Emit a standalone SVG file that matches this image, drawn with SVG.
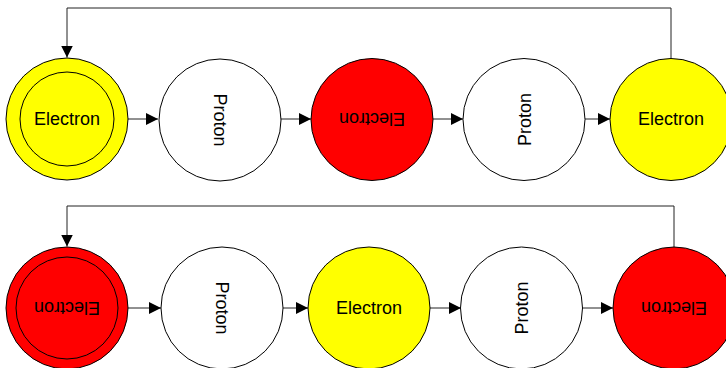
<svg xmlns="http://www.w3.org/2000/svg" width="726" height="368" viewBox="0 0 726 368">
<style>
.c{stroke:#000;stroke-width:1}
.y{fill:#ffff00}
.r{fill:#ff0000}
.w{fill:#ffffff}
.i{fill:none;stroke:#000;stroke-width:1}
.t{font-family:"Liberation Sans",Arial,sans-serif;font-size:18px;fill:#000;text-anchor:middle}
.l{fill:none;stroke:#222;stroke-width:1}
</style>
<defs>
<marker id="a" viewBox="0 0 12 12" refX="12" refY="6" markerWidth="12" markerHeight="12" markerUnits="userSpaceOnUse" orient="auto">
<path d="M0,0 L12,6 L0,12 Z" fill="#000"/>
</marker>
</defs>
<rect width="726" height="368" fill="#fff"/>
<g id="connectors">
<path class="l" d="M671,58 V8 H67 V57.5" marker-end="url(#a)"/>
<path class="l" d="M128,119 H158" marker-end="url(#a)"/>
<path class="l" d="M281,119 H311" marker-end="url(#a)"/>
<path class="l" d="M433,119 H463" marker-end="url(#a)"/>
<path class="l" d="M585,119 H610" marker-end="url(#a)"/>
<path class="l" d="M674,247 V206 H67 V246.5" marker-end="url(#a)"/>
<path class="l" d="M128,308 H161" marker-end="url(#a)"/>
<path class="l" d="M283,308 H308" marker-end="url(#a)"/>
<path class="l" d="M430,308 H461" marker-end="url(#a)"/>
<path class="l" d="M582,308 H613" marker-end="url(#a)"/>
</g>
<g id="n1">
<circle class="c y" cx="67" cy="119" r="61"/>
<circle class="i" cx="67" cy="119" r="47"/>
<text class="t" x="67" y="124.5">Electron</text>
</g>
<g id="n2">
<circle class="c w" cx="220" cy="120" r="61"/>
<text class="t" x="220" y="126.5" transform="rotate(90 220 120)">Proton</text>
</g>
<g id="n3">
<circle class="c r" cx="372" cy="119.5" r="61"/>
<text class="t" x="372" y="126" transform="rotate(180 372 119.5)">Electron</text>
</g>
<g id="n4">
<circle class="c w" cx="524" cy="119.5" r="61"/>
<text class="t" x="524" y="126" transform="rotate(-90 524 119.5)">Proton</text>
</g>
<g id="n5">
<circle class="c y" cx="671" cy="119.5" r="61"/>
<text class="t" x="671" y="125">Electron</text>
</g>
<g id="n6">
<circle class="c r" cx="67" cy="308" r="61"/>
<circle class="i" cx="67" cy="308" r="51"/>
<text class="t" x="67" y="314.5" transform="rotate(180 67 308)">Electron</text>
</g>
<g id="n7">
<circle class="c w" cx="222" cy="308" r="61"/>
<text class="t" x="222" y="314.5" transform="rotate(90 222 308)">Proton</text>
</g>
<g id="n8">
<circle class="c y" cx="369" cy="308" r="61"/>
<text class="t" x="369" y="313.5">Electron</text>
</g>
<g id="n9">
<circle class="c w" cx="521.5" cy="308" r="61"/>
<text class="t" x="521.5" y="314.5" transform="rotate(-90 521.5 308)">Proton</text>
</g>
<g id="n10">
<circle class="c r" cx="674" cy="308" r="61"/>
<text class="t" x="674" y="314.5" transform="rotate(180 674 308)">Electron</text>
</g>
</svg>
